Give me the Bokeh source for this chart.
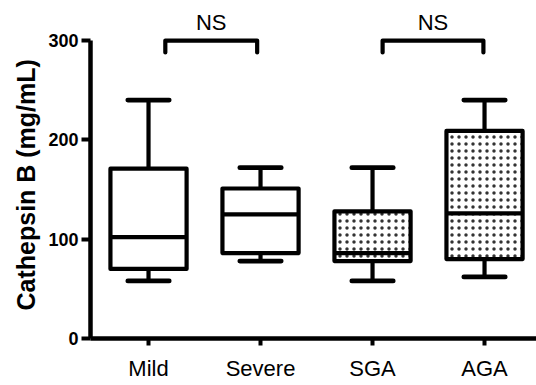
from bokeh.plotting import figure
from bokeh.models import Range1d, LinearAxis, FixedTicker, ColumnDataSource, Title
from bokeh.embed import file_html
from bokeh.resources import INLINE
from bokeh.core.properties import value

# ---- data ----
categories = ["Mild", "Severe", "SGA", "AGA"]
whisker_low = [58, 78, 58, 62]
q1 = [70, 86, 78, 80]
median = [102, 125, 86, 126]
q3 = [171, 151, 128, 209]
whisker_high = [240, 172, 172, 240]
dotted = [False, False, True, True]
comparisons = [("Mild", "Severe", "NS"), ("SGA", "AGA", "NS")]
y_ticks = [0, 100, 200, 300]
y_label = "Cathepsin B (mg/mL)"

# ---- layout / style constants ----
FONT = "Liberation Sans"
BOX_W = 0.68
CAP_W = 0.37
LW = 4.2
BRACKET_LOW, BRACKET_TOP, NS_Y = 288, 300, 318
BRACKET_OFFSETS = [(0.15, -0.03), (0.09, -0.01)]

pos = {c: i + 1 for i, c in enumerate(categories)}
xs = [pos[c] for c in categories]

p = figure(width=536, height=385, output_backend="svg", toolbar_location=None,
           x_range=Range1d(0.482, 4.464), y_range=Range1d(0, 340.3),
           x_axis_type=None, y_axis_type=None,
           min_border_left=90, min_border_right=0, min_border_top=0, min_border_bottom=47)
p.outline_line_color = None
p.xgrid.visible = False
p.ygrid.visible = False
p.background_fill_color = "white"
p.border_fill_color = "white"

src = ColumnDataSource(dict(
    x=xs, lo=whisker_low, q1=q1, med=median, q3=q3, hi=whisker_high,
    left=[x - BOX_W / 2 for x in xs], right=[x + BOX_W / 2 for x in xs],
    cl=[x - CAP_W / 2 for x in xs], cr=[x + CAP_W / 2 for x in xs],
    hatch=["dot" if d else " " for d in dotted],
))

# whiskers
p.segment(x0="x", y0="q3", x1="x", y1="hi", source=src, line_color="black", line_width=LW)
p.segment(x0="x", y0="lo", x1="x", y1="q1", source=src, line_color="black", line_width=LW)
p.segment(x0="cl", y0="hi", x1="cr", y1="hi", source=src, line_color="black",
          line_width=LW + 0.5, line_cap="round")
p.segment(x0="cl", y0="lo", x1="cr", y1="lo", source=src, line_color="black",
          line_width=LW + 0.5, line_cap="round")
# boxes
p.quad(left="left", right="right", bottom="q1", top="q3", source=src,
       fill_color="white", line_color="black", line_width=LW, line_join="round",
       hatch_pattern="hatch", hatch_color="#333333", hatch_scale=7, hatch_weight=1)
# medians
p.segment(x0="left", y0="med", x1="right", y1="med", source=src, line_color="black", line_width=LW)

# significance brackets
bx, by, tx, ty, tt = [], [], [], [], []
for (a, b, lab), (oa, ob) in zip(comparisons, BRACKET_OFFSETS):
    xa, xb = pos[a] + oa, pos[b] + ob
    bx.append([xa, xa, xb, xb])
    by.append([BRACKET_LOW, BRACKET_TOP, BRACKET_TOP, BRACKET_LOW])
    tx.append((xa + xb) / 2)
    ty.append(NS_Y)
    tt.append(lab)
p.multi_line(xs=bx, ys=by, line_color="black", line_width=LW, line_join="round", line_cap="round")
p.text(x=tx, y=ty, text=tt, text_align="center", text_baseline="alphabetic",
       text_font=value(FONT), text_font_size="22px", text_color="black")

# axes
yax = LinearAxis(bounds=(0, 300))
yax.ticker = FixedTicker(ticks=y_ticks)
yax.minor_tick_line_color = None
yax.axis_line_width = 4.5
yax.major_tick_line_width = 4
yax.major_tick_out = 9
yax.major_tick_in = 0
yax.major_label_standoff = 3
yax.major_label_text_font = FONT
yax.major_label_text_font_size = "18px"
yax.major_label_text_font_style = "bold"
yax.major_label_text_color = "black"
p.add_layout(yax, "left")

ytitle = Title(text=y_label, align="left", offset=28,
               text_font=FONT, text_font_size="25px", text_font_style="bold",
               text_color="black", standoff=12)
p.add_layout(ytitle, "left")

xax = LinearAxis()
xax.ticker = FixedTicker(ticks=xs)
xax.major_label_overrides = {x: c for x, c in zip(xs, categories)}
xax.minor_tick_line_color = None
xax.axis_line_width = 4.5
xax.major_tick_line_width = 4
xax.major_tick_out = 7
xax.major_tick_in = 0
xax.major_label_standoff = 10
xax.major_label_text_font = FONT
xax.major_label_text_font_size = "22px"
xax.major_label_text_color = "black"
p.add_layout(xax, "below")

open("out.html", "w").write(file_html(p, INLINE))
